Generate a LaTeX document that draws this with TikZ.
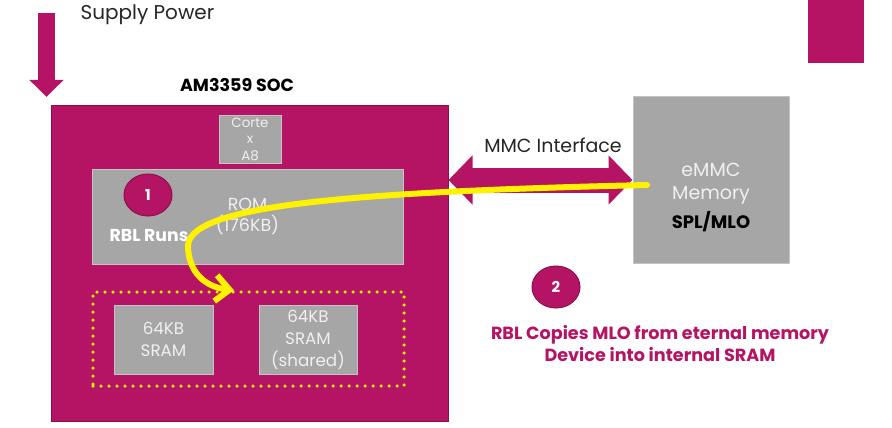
\documentclass[tikz,border=0pt]{standalone}
\usepackage{fontspec}
\setmainfont{Poppins}
\usetikzlibrary{arrows.meta,shapes.geometric}
\definecolor{socred}{HTML}{B51363}
\definecolor{socdark}{HTML}{8E0E4C}
\definecolor{boxgray}{HTML}{A6A6A6}
\definecolor{boxline}{HTML}{C4C4C4}
\definecolor{boxtext}{HTML}{F0F0F0}
\begin{document}
\begin{tikzpicture}[x=1pt,y=-1pt,
  graybox/.style={draw=boxline,fill=boxgray,line width=1pt,inner sep=0pt,text=boxtext,align=center},
  stepmark/.style={ellipse,draw=socdark,fill=socred,line width=1pt,minimum width=48pt,minimum height=42pt,
    text=white,font=\fontsize{15}{18}\selectfont\bfseries},
  mmcarrow/.style={draw=socred,line width=25pt,{Triangle[length=24pt,width=48pt]}-{Triangle[length=24pt,width=48pt]}},
  copyline/.style={draw=yellow,line width=6pt,line cap=round,-{Straight Barb[length=14pt,width=26pt,line width=6pt]}}]
\useasboundingbox[fill=white] (0,0) rectangle (892,428);

\node[fill=socred,minimum width=56pt,minimum height=63pt,inner sep=0pt] (logo) at (836,31.5) {};

\coordinate (pwrtop) at (46.5,13);
\coordinate (pwrtip) at (46.5,97);
\draw[socred,line width=17pt,-{Triangle[length=17pt,width=33pt]}] (pwrtop) -- (pwrtip);
\node[anchor=west,font=\fontsize{20}{24}\selectfont,text=black!85] (pwr) at (77,15) {Supply Power};

\node[font=\fontsize{17.5}{21}\selectfont\bfseries] (soctitle) at (237,85) {AM3359 SOC};
\node[fill=socred,draw=socdark,line width=1pt,minimum width=397pt,minimum height=316pt,inner sep=0pt] (soc) at (249.5,263) {};

\node[graybox,minimum width=62pt,minimum height=48pt,font=\fontsize{13.4}{16.5}\selectfont] (cpu) at (250,139) {Corte\\x\\A8};
\node[graybox,minimum width=311pt,minimum height=95pt,font=\fontsize{17.5}{21.5}\selectfont] (rom) at (247.5,216.5) {ROM\\(176KB)};
\node[stepmark] (one) at (148,195) {1};
\node[text=white,font=\fontsize{17.3}{20}\selectfont\bfseries] (runs) at (149,235) {RBL Runs};

\node[graybox,minimum width=99pt,minimum height=69pt,font=\fontsize{16.7}{22}\selectfont] (sramA) at (163.5,339.5) {64KB\\SRAM};
\node[graybox,minimum width=98pt,minimum height=69pt,font=\fontsize{16.7}{22}\selectfont] (sramB) at (308,339.5) {64KB\\SRAM\\(shared)};
\node[draw=yellow,line width=3.5pt,dash pattern=on 0pt off 8pt,line cap=round,minimum width=311pt,minimum height=94pt] (sramgrp) at (248.5,339) {};

\node[graybox,minimum width=156pt,minimum height=166pt] (emmc) at (711,180) {};
\node[align=center,text=boxtext,font=\fontsize{19}{23}\selectfont] (emmctxt) at (711,197) {eMMC\\Memory\\[6pt]{\color{black}\fontsize{18}{22}\selectfont\bfseries SPL/MLO}};

\node[font=\fontsize{19}{23}\selectfont,text=black!85] (mmc) at (553,145) {MMC Interface};
\draw[mmcarrow] (soc.east |- emmc.west) -- (emmc.west);

\coordinate (ystart) at (647,185);
\coordinate (ybend) at (188,245);
\draw[copyline] (ystart) .. controls (350,192) and (192,205) .. (ybend)
  .. controls (188,272) and (205,287) .. (sramgrp.north -| 234,0);

\node[stepmark] (two) at (556,287) {2};
\node[align=center,text=socred,font=\fontsize{17.6}{22}\selectfont\bfseries] (copytxt) at (660,344)
  {RBL Copies MLO from eternal memory\\Device into internal SRAM};
\end{tikzpicture}
\end{document}
